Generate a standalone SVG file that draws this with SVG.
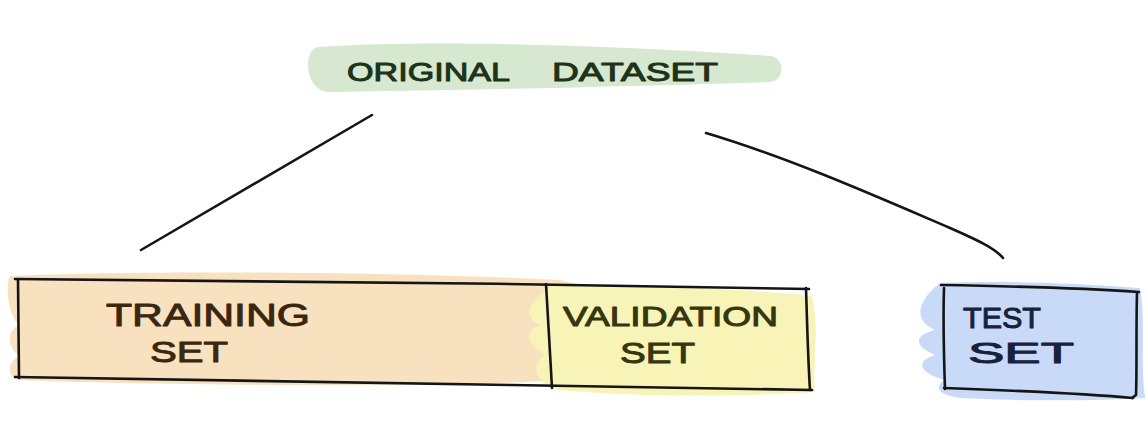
<svg xmlns="http://www.w3.org/2000/svg" width="1148" height="426" viewBox="0 0 1148 426">
<style>
.ink{fill:none;stroke:#151515;stroke-width:2.6;stroke-linecap:round;stroke-linejoin:round}
.lbl{font-family:"Liberation Sans","DejaVu Sans",sans-serif;font-weight:normal;stroke-width:1;stroke-linejoin:round}
</style>
<rect width="1148" height="426" fill="#ffffff"/>
<g id="original-dataset">
<path d="M318,47 C420,40 600,44 770,56 C785,58 786,80 770,82 C640,86 480,90 330,92 C305,93 302,50 318,47 Z" fill="#d6e8cf"/>
<text class="lbl" x="347" y="81" font-size="26" fill="#1e3319" stroke="#1e3319" textLength="163" lengthAdjust="spacingAndGlyphs">ORIGINAL</text>
<text class="lbl" x="552" y="81" font-size="26" fill="#1e3319" stroke="#1e3319" textLength="166" lengthAdjust="spacingAndGlyphs">DATASET</text>
</g>
<g id="training-set">
<path d="M10,276 C150,270 400,272 560,280 L575,284 C578,320 560,330 575,380 C400,388 150,385 20,380 C5,378 8,360 20,356 C8,350 5,330 20,325 C8,318 5,285 10,276 Z" fill="#f7e1bf"/>
<text class="lbl" x="106" y="326" font-size="32" fill="#3b2710" stroke="#3b2710" textLength="204" lengthAdjust="spacingAndGlyphs">TRAINING</text>
<text class="lbl" x="150" y="362" font-size="30" fill="#3b2710" stroke="#3b2710" textLength="78" lengthAdjust="spacingAndGlyphs">SET</text>
</g>
<g id="validation-set">
<path d="M552,286 C650,284 750,290 812,296 C820,330 812,360 815,392 C720,398 620,396 560,390 C535,385 530,365 545,355 C525,345 525,330 540,325 C520,315 530,300 552,286 Z" fill="#f8f3b6"/>
<text class="lbl" x="563" y="326" font-size="28" fill="#36360f" stroke="#36360f" textLength="215" lengthAdjust="spacingAndGlyphs">VALIDATION</text>
<text class="lbl" x="620" y="363" font-size="30" fill="#36360f" stroke="#36360f" textLength="75" lengthAdjust="spacingAndGlyphs">SET</text>
</g>
<g id="test-set">
<path d="M940,283 C1010,280 1090,284 1140,288 C1146,320 1140,360 1145,398 C1080,402 1000,400 960,398 C935,395 935,385 945,380 C915,372 918,360 935,355 C912,345 915,335 935,330 C912,320 918,300 940,283 Z" fill="#c8daf7"/>
<text class="lbl" x="963" y="328" font-size="29" fill="#18223d" stroke="#18223d" textLength="78" lengthAdjust="spacingAndGlyphs">TEST</text>
<text class="lbl" x="968" y="363" font-size="29" fill="#18223d" stroke="#18223d" textLength="106" lengthAdjust="spacingAndGlyphs">SET</text>
</g>
<g id="borders">
<path class="ink" d="M15,279 C250,280 550,284 809,289"/>
<path class="ink" d="M18,280 L19,378"/>
<path class="ink" d="M15,377 C250,380 550,386 812,390"/>
<path class="ink" d="M546,284 C548,320 550,350 552,388"/>
<path class="ink" d="M806,288 C807,320 808,360 810,390"/>
<path class="ink" d="M941,285 C1000,286 1080,288 1139,292"/>
<path class="ink" d="M944,288 C943,320 944,360 945,389"/>
<path class="ink" d="M944,388 C1000,390 1080,393 1133,398"/>
<path class="ink" d="M1137,293 C1136,330 1137,370 1136,395 L1132,398"/>
</g>
<g id="connectors">
<path class="ink" d="M372,115 L141,250"/>
<path class="ink" d="M706,133 C790,158 880,198 950,228 C975,239 995,248 1003,258"/>
</g>
</svg>
